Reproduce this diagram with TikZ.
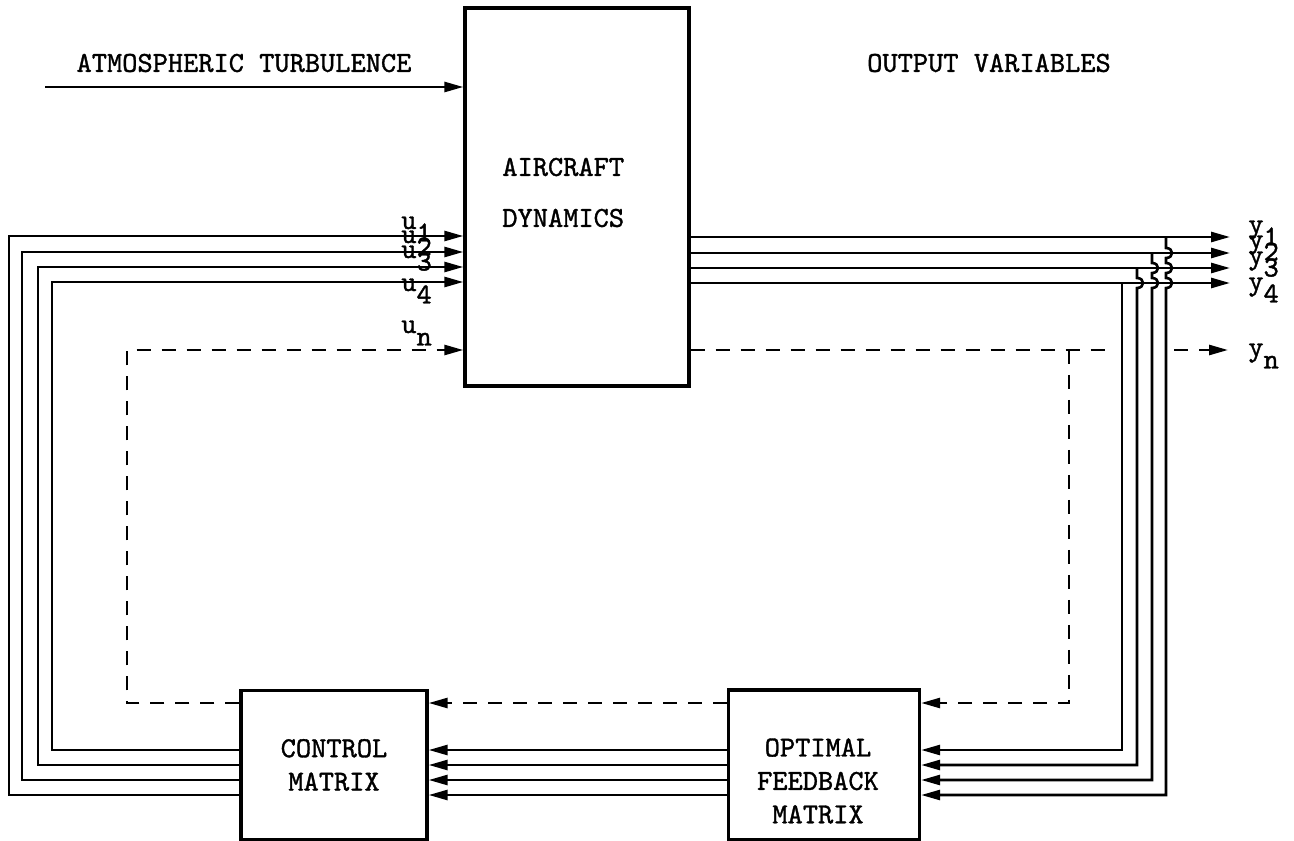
\documentclass[tikz,border=0pt]{standalone}
\usepackage{fontspec}
\newfontfamily\typer{lmmono10-regular.otf}[FakeBold=1.2]
\usetikzlibrary{arrows.meta}
\newcommand{\dnsub}[1]{\raisebox{-0.25cm}{#1}}

\begin{document}
\begin{tikzpicture}[
        x={(0.02cm,0cm)},
        y={(0cm,-0.02cm)},
        font=\typer\fontsize{16.5}{19}\selectfont,
        block/.style={draw, line width=1.9pt, inner sep=0pt},
        sig/.style={line width=1.5pt},
        ctl/.style={sig, -{Triangle[length=0.38cm,width=0.2cm]}},
        dsig/.style={sig, dash pattern=on 0.28cm off 0.22cm},
        title/.style={inner sep=0pt},
        lbl/.style={inner sep=0pt, anchor=base west}
    ]
    \useasboundingbox (0,0) rectangle (1294,841);

    \node[block, minimum width=4.48cm, minimum height=7.56cm] (acd) at (577,197) {};
    \node[title, anchor=west] (acdtop) at (502,167) {AIRCRAFT};
    \node[title, anchor=west] (acdbot) at (502,218) {DYNAMICS};
    \node[block, minimum width=3.72cm, minimum height=2.98cm, align=center] (cm) at (334,765) {CONTROL\\MATRIX};
    \node[block, minimum width=3.82cm, minimum height=3cm] (ofm) at (824,765) {};
    \node[title, align=center] (ofmtext) at (818,781) {OPTIMAL\\FEEDBACK\\MATRIX};

    \node[title] (atm) at (244,63) {ATMOSPHERIC TURBULENCE};
    \node[title] (outv) at (989,63) {OUTPUT VARIABLES};

    % input rows and left return columns
    \coordinate (turb) at (45,87);
    \coordinate (l1) at (9,236);
    \coordinate (l2) at (22,252);
    \coordinate (l3) at (38,267);
    \coordinate (l4) at (52,282);
    \coordinate (ln) at (127,350);
    % feedback rows at the bottom
    \coordinate (b1) at (0,795);
    \coordinate (b2) at (0,780);
    \coordinate (b3) at (0,765);
    \coordinate (b4) at (0,750);
    \coordinate (bn) at (0,703);
    % output rows and branch columns
    \coordinate (c1) at (1166,237);
    \coordinate (c2) at (1152,253);
    \coordinate (c3) at (1137,268);
    \coordinate (c4) at (1122,283);
    \coordinate (cn) at (1069,350);
    \coordinate (o1) at (1230,237);
    \coordinate (o2) at (1230,253);
    \coordinate (o3) at (1230,268);
    \coordinate (o4) at (1230,283);
    \coordinate (gapl) at (1115,350);
    \coordinate (gapr) at (1174,350);
    \coordinate (on) at (1228,350);

    \draw[ctl] (turb) -- (acd.west |- turb);

    % control inputs
    \draw[ctl] (cm.west |- b1) -| (l1) -- (acd.west |- l1);
    \draw[ctl] (cm.west |- b2) -| (l2) -- (acd.west |- l2);
    \draw[ctl] (cm.west |- b3) -| (l3) -- (acd.west |- l3);
    \draw[ctl] (cm.west |- b4) -| (l4) -- (acd.west |- l4);
    \draw[ctl, dsig] (cm.west |- bn) -| (ln) -- (acd.west |- ln);

    % matrix to matrix
    \draw[ctl] (ofm.west |- b1) -- (cm.east |- b1);
    \draw[ctl] (ofm.west |- b2) -- (cm.east |- b2);
    \draw[ctl] (ofm.west |- b3) -- (cm.east |- b3);
    \draw[ctl] (ofm.west |- b4) -- (cm.east |- b4);
    \draw[ctl, dsig] (ofm.west |- bn) -- (cm.east |- bn);

    % outputs
    \draw[ctl] (acd.east |- o1) -- (o1);
    \draw[ctl] (acd.east |- o2) -- (o2);
    \draw[ctl] (acd.east |- o3) -- (o3);
    \draw[ctl] (acd.east |- o4) -- (o4);
    \draw[dsig] (acd.east |- cn) -- (gapl);
    \draw[ctl, dsig] (gapr) -- (on);

    % feedback branches, hopping over the lower rows
    \draw[ctl] (c1) -- (1166,248) .. controls (1174,248) and (1174,258) .. (1166,258)
        -- (1166,263) .. controls (1174,263) and (1174,273) .. (1166,273)
        -- (1166,278) .. controls (1174,278) and (1174,288) .. (1166,288)
        |- (ofm.east |- b1);
    \draw[ctl] (c2) -- (1152,263) .. controls (1160,263) and (1160,273) .. (1152,273)
        -- (1152,278) .. controls (1160,278) and (1160,288) .. (1152,288)
        |- (ofm.east |- b2);
    \draw[ctl] (c3) -- (1137,278) .. controls (1145,278) and (1145,288) .. (1137,288)
        |- (ofm.east |- b3);
    \draw[ctl] (c4) |- (ofm.east |- b4);
    \draw[ctl, dsig] (cn) |- (ofm.east |- bn);

    % signal names
    \node[lbl] (u1) at (401,229) {u\dnsub{1}};
    \node[lbl] (u2) at (401,243) {u\dnsub{2}};
    \node[lbl] (u3) at (401,258) {u\dnsub{3}};
    \node[lbl] (u4) at (401,291) {u\dnsub{4}};
    \node[lbl] (un) at (401,333) {u\dnsub{n}};
    \node[lbl] (y1) at (1248,233) {y\dnsub{1}};
    \node[lbl] (y2) at (1248,248) {y\dnsub{2}};
    \node[lbl] (y3) at (1248,264) {y\dnsub{3}};
    \node[lbl] (y4) at (1248,290) {y\dnsub{4}};
    \node[lbl] (yn) at (1248,356) {y\dnsub{n}};
\end{tikzpicture}
\end{document}
